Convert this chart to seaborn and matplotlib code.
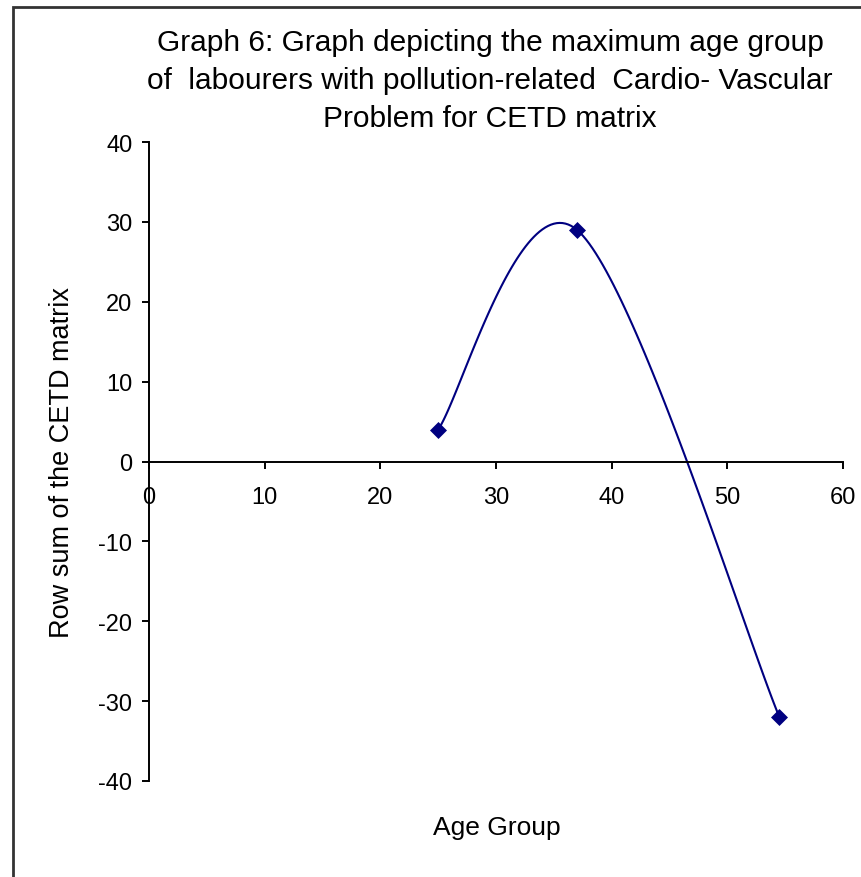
import numpy as np
import pandas as pd
import matplotlib
matplotlib.use("Agg")
import matplotlib.pyplot as plt
import matplotlib.patches as mpatches
import seaborn as sns

# Data
age_group = [25, 37, 54.5]
row_sum = [4, 29, -32]
x_ticks = [0, 10, 20, 30, 40, 50, 60]
y_ticks = [-40, -30, -20, -10, 0, 10, 20, 30, 40]

title = ("Graph 6: Graph depicting the maximum age group\n"
         "of  labourers with pollution-related  Cardio- Vascular\n"
         "Problem for CETD matrix")


def excel_smooth(xs, ys, n=60):
    """Excel-like smoothed line (Catmull-Rom as cubic Bezier)."""
    pts = np.column_stack([xs, ys]).astype(float)
    out = []
    m = len(pts)
    for i in range(m - 1):
        p0 = pts[i - 1] if i > 0 else pts[i]
        p1 = pts[i]
        p2 = pts[i + 1]
        p3 = pts[i + 2] if i + 2 < m else pts[i + 1]
        c1 = p1 + (p2 - p0) / 6.0
        c2 = p2 - (p3 - p1) / 6.0
        t = np.linspace(0, 1, n)[:, None]
        seg = ((1 - t) ** 3) * p1 + 3 * ((1 - t) ** 2) * t * c1 + 3 * (1 - t) * t ** 2 * c2 + t ** 3 * p2
        if i > 0:
            seg = seg[1:]
        out.append(seg)
    out = np.vstack(out)
    return out[:, 0], out[:, 1]


sns.set_theme(style="white")
plt.rcParams['font.family'] = ['Liberation Sans', 'DejaVu Sans']

fig = plt.figure(figsize=(8.62, 8.78), dpi=100)
ax = fig.add_axes([149 / 862, 1 - 782 / 878, 694 / 862, 639 / 878])

sx, sy = excel_smooth(age_group, row_sum)
curve = pd.DataFrame({"x": sx, "y": sy})
sns.lineplot(data=curve, x="x", y="y", sort=False, color="#000080", linewidth=1.5, ax=ax)

pts = pd.DataFrame({"Age Group": age_group, "Row sum": row_sum})
sns.scatterplot(data=pts, x="Age Group", y="Row sum", marker="D", s=75,
                color="#000080", edgecolor="#000080", linewidth=0, ax=ax, zorder=5)

ax.set_xlim(0, 60)
ax.set_ylim(-40, 40)
ax.set_xticks(x_ticks)
ax.set_yticks(y_ticks)
ax.set_xticklabels([str(v) for v in x_ticks])
ax.set_yticklabels([str(v) for v in y_ticks])

for s in ["top", "right"]:
    ax.spines[s].set_visible(False)
ax.spines["left"].set_position(("data", 0))
ax.spines["bottom"].set_position(("data", 0))
for s in ["left", "bottom"]:
    ax.spines[s].set_color("black")
    ax.spines[s].set_linewidth(1.4)

ax.tick_params(axis="both", which="major", direction="out", length=5, width=1.4,
               color="black", labelsize=17, labelcolor="black")
ax.tick_params(axis="x", pad=13, bottom=True)
ax.tick_params(axis="y", pad=7, left=True)

ax.set_xlabel("Age Group", fontsize=19, color="black", va="center")
ax.xaxis.set_label_coords((497 - 149) / 694, (782 - 828) / 639)
ax.set_ylabel("Row sum of the CETD matrix", fontsize=19.5, color="black", va="center")
ax.yaxis.set_label_coords((62 - 149) / 694, (782 - 462) / 639)

fig.text(490 / 862, 1 - 81 / 878, title, ha="center", va="center",
         fontsize=21.5, color="black", linespacing=1.47)

border = mpatches.Rectangle((13 / 862, -0.1), 1.2, (870 / 878) + 0.1,
                            transform=fig.transFigure, fill=False,
                            edgecolor="#333333", linewidth=2, clip_on=False)
fig.patches.append(border)

fig.savefig("out.png", dpi=100, facecolor="white")
